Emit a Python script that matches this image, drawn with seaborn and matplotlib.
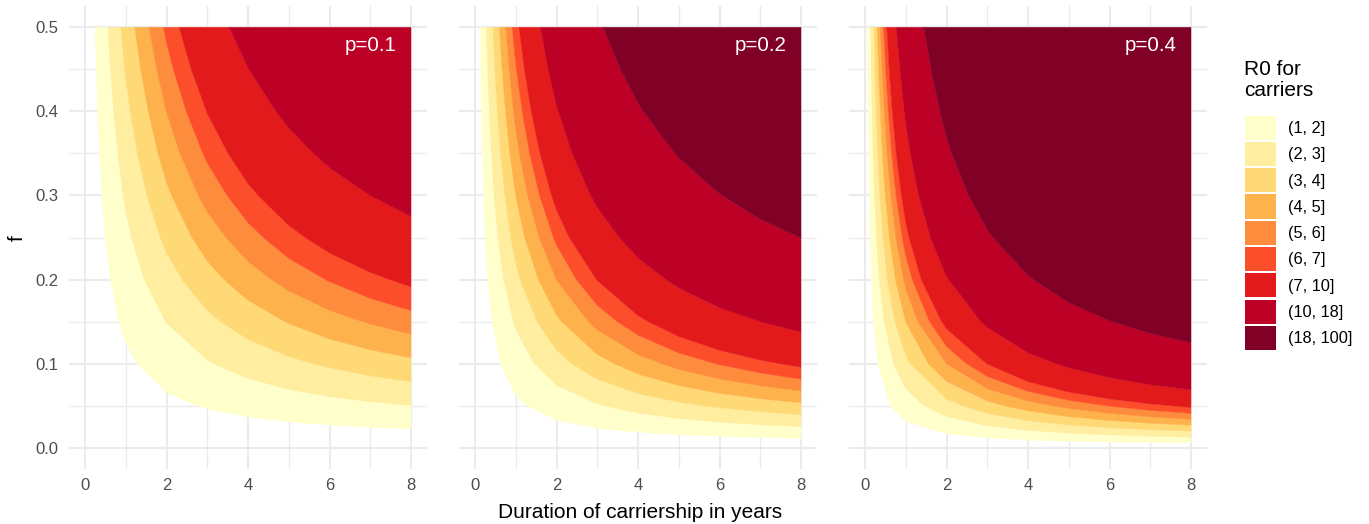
import matplotlib
matplotlib.use("Agg")
import matplotlib.pyplot as plt
import seaborn as sns
from matplotlib.patches import Patch

# ---------------- data ----------------
panel_labels = ["p=0.1", "p=0.2", "p=0.4"]
category_labels = ["(1, 2]", "(2, 3]", "(3, 4]", "(4, 5]", "(5, 6]",
                   "(6, 7]", "(7, 10]", "(10, 18]", "(18, 100]"]
palette = ["#FFFFCC", "#FFEDA0", "#FED976", "#FEB24C", "#FD8D3C",
           "#FC4E2A", "#E31A1C", "#BD0026", "#800026"]
x_ticks = [0, 2, 4, 6, 8]
y_ticks = [0.0, 0.1, 0.2, 0.3, 0.4, 0.5]

# contour boundaries (duration D, f) for R0 = 1, 2, 3, 4, 5, 6, 7, 10, 18
# panel p=0.1
p1_r1 = [(0.249, 0.5), (0.277, 0.45), (0.312, 0.40), (0.356, 0.35), (0.416, 0.30), (0.499, 0.25),
         (0.623, 0.20), (0.831, 0.15), (1, 0.1247), (1.276, 0.10), (2, 0.0658), (2.748, 0.05),
         (3, 0.0463), (4, 0.0365), (5, 0.0308), (6, 0.0269), (7, 0.0243), (8, 0.0223)]
p1_r2 = [(0.562, 0.5), (0.625, 0.45), (0.703, 0.40), (0.803, 0.35), (0.937, 0.30), (1, 0.2811),
         (1.139, 0.25), (1.453, 0.20), (1.976, 0.15), (2, 0.1483), (3, 0.1043), (3.160, 0.10),
         (4, 0.0824), (5, 0.0693), (6, 0.0607), (7, 0.0547), (8, 0.0502)]
p1_r3 = [(0.879, 0.5), (0.977, 0.45), (1, 0.4395), (1.110, 0.40), (1.286, 0.35), (1.520, 0.30),
         (1.847, 0.25), (2, 0.2320), (2.378, 0.20), (3, 0.1631), (3.328, 0.15), (4, 0.1288),
         (5, 0.1084), (5.596, 0.10), (6, 0.0950), (7, 0.0855), (8, 0.0785)]
p1_r4 = [(1.219, 0.5), (1.368, 0.45), (1.553, 0.40), (1.792, 0.35), (2, 0.3156), (2.123, 0.30),
         (2.621, 0.25), (3, 0.2219), (3.411, 0.20), (4, 0.1753), (4.896, 0.15), (5, 0.1475),
         (6, 0.1292), (7, 0.1163), (8, 0.1068)]
p1_r5 = [(1.571, 0.5), (1.759, 0.45), (2, 0.3987), (2.329, 0.35), (2.778, 0.30), (3, 0.2803),
         (3.455, 0.25), (4, 0.2214), (4.570, 0.20), (5, 0.1864), (6, 0.1633), (6.797, 0.15),
         (7, 0.1470), (8, 0.1349)]
p1_r6 = [(1.923, 0.5), (2, 0.4818), (2.167, 0.45), (2.484, 0.40), (2.891, 0.35), (3, 0.3387),
         (3.485, 0.30), (4, 0.2675), (4.373, 0.25), (5, 0.2252), (5.891, 0.20), (6, 0.1973),
         (7, 0.1776), (8, 0.1630)]
p1_r7 = [(2.310, 0.5), (2.607, 0.45), (2.979, 0.40), (3, 0.3975), (3.510, 0.35), (4, 0.3140),
         (4.248, 0.30), (5, 0.2643), (5.405, 0.25), (6, 0.2315), (7, 0.2084), (7.471, 0.20),
         (8, 0.1913)]
p1_r10 = [(3.538, 0.5), (4, 0.4515), (4.685, 0.40), (5, 0.3801), (5.607, 0.35), (6, 0.3329),
          (7, 0.2997), (8, 0.2751)]

# panel p=0.2
p2_r1 = [(0.125, 0.5), (0.139, 0.45), (0.156, 0.40), (0.178, 0.35), (0.208, 0.30), (0.249, 0.25),
         (0.312, 0.20), (0.416, 0.15), (0.623, 0.10), (1, 0.0623), (1.276, 0.05), (2, 0.0329),
         (3, 0.0231), (4, 0.0183), (5, 0.0154), (6, 0.0135), (7, 0.0121), (8, 0.0111)]
p2_r2 = [(0.281, 0.5), (0.312, 0.45), (0.351, 0.40), (0.402, 0.35), (0.468, 0.30), (0.562, 0.25),
         (0.703, 0.20), (0.937, 0.15), (1, 0.1405), (1.453, 0.10), (2, 0.0742), (3, 0.0521),
         (3.160, 0.05), (4, 0.0412), (5, 0.0347), (6, 0.0304), (7, 0.0273), (8, 0.0251)]
p2_r3 = [(0.440, 0.5), (0.488, 0.45), (0.549, 0.40), (0.628, 0.35), (0.733, 0.30), (0.879, 0.25),
         (1, 0.2198), (1.110, 0.20), (1.520, 0.15), (2, 0.1160), (2.378, 0.10), (3, 0.0815),
         (4, 0.0644), (5, 0.0542), (5.596, 0.05), (6, 0.0475), (7, 0.0428), (8, 0.0392)]
p2_r4 = [(0.598, 0.5), (0.665, 0.45), (0.748, 0.40), (0.854, 0.35), (0.997, 0.30), (1, 0.2990),
         (1.219, 0.25), (1.553, 0.20), (2, 0.1578), (2.123, 0.15), (3, 0.1109), (3.411, 0.10),
         (4, 0.0876), (5, 0.0738), (6, 0.0646), (7, 0.0582), (8, 0.0534)]
p2_r5 = [(0.756, 0.5), (0.839, 0.45), (0.944, 0.40), (1, 0.3777), (1.089, 0.35), (1.290, 0.30),
         (1.571, 0.25), (2, 0.1993), (2.778, 0.15), (3, 0.1401), (4, 0.1107), (4.570, 0.10),
         (5, 0.0932), (6, 0.0816), (7, 0.0735), (8, 0.0675)]
p2_r6 = [(0.913, 0.5), (1, 0.4564), (1.158, 0.40), (1.340, 0.35), (1.583, 0.30), (1.923, 0.25),
         (2, 0.2409), (2.484, 0.20), (3, 0.1693), (3.485, 0.15), (4, 0.1338), (5, 0.1126),
         (5.891, 0.10), (6, 0.0986), (7, 0.0888), (8, 0.0815)]
p2_r7 = [(1.080, 0.5), (1.213, 0.45), (1.379, 0.40), (1.593, 0.35), (1.878, 0.30), (2, 0.2827),
         (2.310, 0.25), (2.979, 0.20), (3, 0.1987), (4, 0.1570), (4.248, 0.15), (5, 0.1322),
         (6, 0.1158), (7, 0.1042), (7.471, 0.10), (8, 0.0957)]
p2_r10 = [(1.604, 0.5), (1.795, 0.45), (2, 0.4065), (2.382, 0.35), (2.840, 0.30), (3, 0.2857),
          (3.538, 0.25), (4, 0.2257), (4.685, 0.20), (5, 0.1900), (6, 0.1665), (7, 0.1498),
          (8, 0.1375)]
p2_r18 = [(3.138, 0.5), (3.572, 0.45), (4, 0.4095), (4.127, 0.40), (4.905, 0.35), (5, 0.3447),
          (6, 0.3020), (6.060, 0.30), (7, 0.2718), (8, 0.2495)]

# panel p=0.4
p3_r1 = [(0.062, 0.5), (0.069, 0.45), (0.078, 0.40), (0.089, 0.35), (0.104, 0.30), (0.125, 0.25),
         (0.156, 0.20), (0.208, 0.15), (0.312, 0.10), (0.623, 0.05), (1, 0.0312), (2, 0.0165),
         (3, 0.0116), (4, 0.0091), (5, 0.0077), (6, 0.0067), (7, 0.0061), (8, 0.0056)]
p3_r2 = [(0.141, 0.5), (0.156, 0.45), (0.176, 0.40), (0.201, 0.35), (0.234, 0.30), (0.281, 0.25),
         (0.351, 0.20), (0.468, 0.15), (0.703, 0.10), (1, 0.0703), (1.453, 0.05), (2, 0.0371),
         (3, 0.0261), (4, 0.0206), (5, 0.0173), (6, 0.0152), (7, 0.0137), (8, 0.0125)]
p3_r3 = [(0.220, 0.5), (0.244, 0.45), (0.275, 0.40), (0.314, 0.35), (0.366, 0.30), (0.440, 0.25),
         (0.549, 0.20), (0.733, 0.15), (1, 0.1099), (1.110, 0.10), (2, 0.0580), (2.378, 0.05),
         (3, 0.0408), (4, 0.0322), (5, 0.0271), (6, 0.0237), (7, 0.0214), (8, 0.0196)]
p3_r4 = [(0.299, 0.5), (0.332, 0.45), (0.374, 0.40), (0.427, 0.35), (0.498, 0.30), (0.598, 0.25),
         (0.748, 0.20), (0.997, 0.15), (1, 0.1495), (1.553, 0.10), (2, 0.0789), (3, 0.0555),
         (3.411, 0.05), (4, 0.0438), (5, 0.0369), (6, 0.0323), (7, 0.0291), (8, 0.0267)]
p3_r5 = [(0.378, 0.5), (0.420, 0.45), (0.472, 0.40), (0.540, 0.35), (0.630, 0.30), (0.756, 0.25),
         (0.944, 0.20), (1, 0.1889), (1.290, 0.15), (2, 0.0997), (3, 0.0701), (4, 0.0554),
         (4.570, 0.05), (5, 0.0466), (6, 0.0408), (7, 0.0367), (8, 0.0337)]
p3_r6 = [(0.456, 0.5), (0.507, 0.45), (0.571, 0.40), (0.652, 0.35), (0.761, 0.30), (0.913, 0.25),
         (1, 0.2282), (1.158, 0.20), (1.583, 0.15), (2, 0.1204), (2.484, 0.10), (3, 0.0847),
         (4, 0.0669), (5, 0.0563), (5.891, 0.05), (6, 0.0493), (7, 0.0444), (8, 0.0408)]
p3_r7 = [(0.536, 0.5), (0.595, 0.45), (0.670, 0.40), (0.765, 0.35), (0.893, 0.30), (1, 0.2678),
         (1.080, 0.25), (1.379, 0.20), (1.878, 0.15), (2, 0.1414), (2.979, 0.10), (3, 0.0994),
         (4, 0.0785), (5, 0.0661), (6, 0.0579), (7, 0.0521), (7.471, 0.05), (8, 0.0478)]
p3_r10 = [(0.770, 0.5), (0.856, 0.45), (0.963, 0.40), (1, 0.3851), (1.112, 0.35), (1.317, 0.30),
          (1.604, 0.25), (2, 0.2033), (2.840, 0.15), (3, 0.1429), (4, 0.1129), (4.685, 0.10),
          (5, 0.0950), (6, 0.0832), (7, 0.0749), (8, 0.0688)]
p3_r18 = [(1.444, 0.5), (1.618, 0.45), (1.834, 0.40), (2, 0.3687), (2.127, 0.35), (2.542, 0.30),
          (3, 0.2592), (3.138, 0.25), (4, 0.2048), (4.127, 0.20), (5, 0.1724), (6, 0.1510),
          (6.060, 0.15), (7, 0.1359), (8, 0.1248)]

panel_boundaries = [
    [p1_r1, p1_r2, p1_r3, p1_r4, p1_r5, p1_r6, p1_r7, p1_r10],
    [p2_r1, p2_r2, p2_r3, p2_r4, p2_r5, p2_r6, p2_r7, p2_r10, p2_r18],
    [p3_r1, p3_r2, p3_r3, p3_r4, p3_r5, p3_r6, p3_r7, p3_r10, p3_r18],
]
D_MAX, F_MAX = 8, 0.5

# ---------------- styling ----------------
sns.set_theme(style="white")
plt.rcParams["font.family"] = ["Liberation Sans", "DejaVu Sans"]

W, H = 1369, 524
fig = plt.figure(figsize=(W / 100, H / 100), dpi=100)
lefts = [68.7, 458.7, 848.7]
ax_w, top_px, bot_px = 358.6, 6.3, 468.7
axes = []
for i, lp in enumerate(lefts):
    ax = fig.add_axes([lp / W, 1 - bot_px / H, ax_w / W, (bot_px - top_px) / H])
    axes.append(ax)

grid_col = "#EBEBEB"
for i, ax in enumerate(axes):
    bounds = panel_boundaries[i]
    for k, lower in enumerate(bounds):
        xs = [pt[0] for pt in lower]
        ys = [pt[1] for pt in lower]
        if k + 1 < len(bounds):
            upper = bounds[k + 1]
            xs += [pt[0] for pt in reversed(upper)]
            ys += [pt[1] for pt in reversed(upper)]
        else:
            xs.append(D_MAX)
            ys.append(F_MAX)
        ax.fill(xs, ys, facecolor=palette[k], edgecolor=palette[k], lw=0.3, zorder=2)

    ax.set_xlim(-0.4, 8.4)
    ax.set_ylim(-0.025, 0.525)
    ax.set_xticks(x_ticks)
    ax.set_xticks([1, 3, 5, 7], minor=True)
    ax.set_yticks(y_ticks)
    ax.set_yticks([0.05, 0.15, 0.25, 0.35, 0.45], minor=True)
    ax.set_xticklabels([str(t) for t in x_ticks])
    if i == 0:
        ax.set_yticklabels([f"{t:.1f}" for t in y_ticks])
    else:
        ax.set_yticklabels([])
    ax.set_axisbelow(True)
    ax.grid(True, which="major", color=grid_col, lw=1.45, zorder=0)
    ax.grid(True, which="minor", color=grid_col, lw=1.0, zorder=0)
    for s in ax.spines.values():
        s.set_visible(False)
    ax.tick_params(axis="both", which="both", length=0, labelsize=12,
                   labelcolor="#4D4D4D")
    ax.tick_params(axis="x", pad=7)
    ax.tick_params(axis="y", pad=7.5)
    ax.set_facecolor("white")
    ax.text(7, 0.478, panel_labels[i], color="white", ha="center", va="center",
            fontsize=14.8, zorder=5)

fig.text(640 / W, 1 - 512 / H, "Duration of carriership in years",
         ha="center", va="center", fontsize=15, color="black")
fig.text(17 / W, 1 - 238 / H, "f", rotation=90, ha="center", va="center",
         fontsize=15, color="black")

# legend
fig.text(1244 / W, 1 - 60 / H, "R0 for\ncarriers", ha="left", va="top",
         fontsize=15, color="black", linespacing=1.12)
handles = [Patch(facecolor=c, edgecolor="none") for c in palette]
fs = 11.8
fs_px = fs * 100 / 72
fig.legend(handles, category_labels, loc="upper left",
           bbox_to_anchor=(1245 / W, 1 - 115.7 / H), frameon=False,
           fontsize=fs, labelcolor="black",
           handlelength=31 / fs_px, handleheight=31 / fs_px,
           labelspacing=2.1 / fs_px, handletextpad=12 / fs_px,
           borderpad=0, borderaxespad=0)

fig.savefig("out.png", dpi=100, facecolor="white")
